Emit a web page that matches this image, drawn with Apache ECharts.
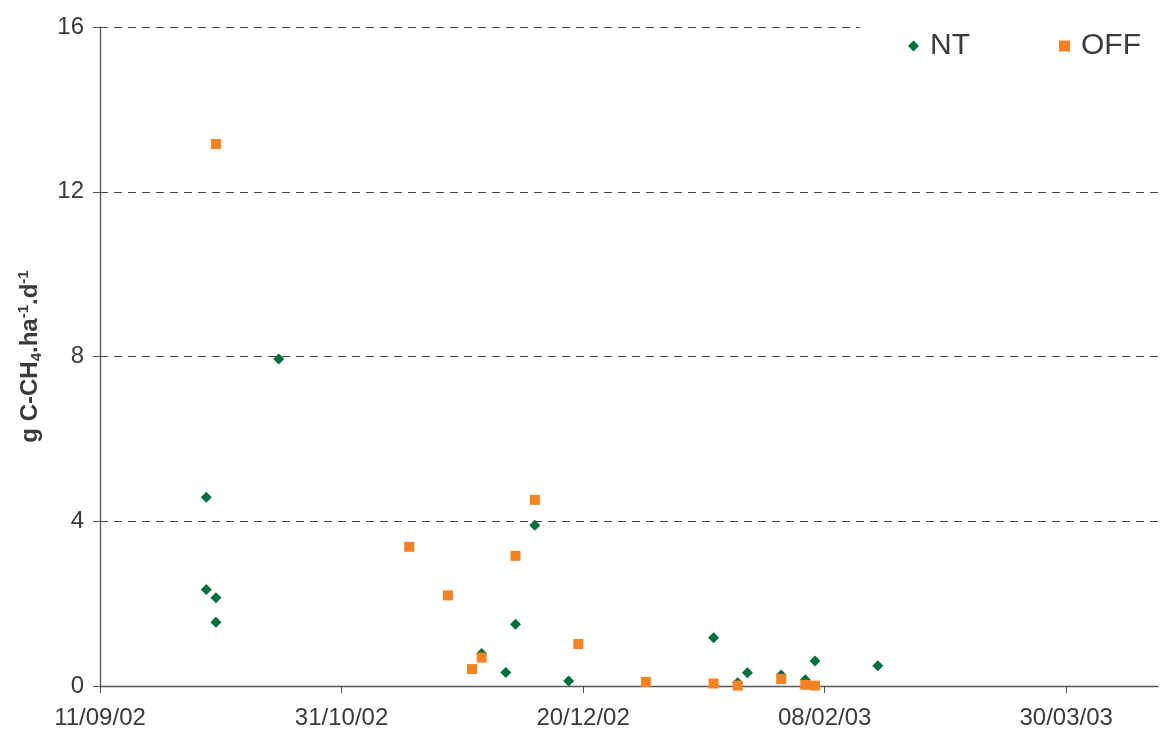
<!DOCTYPE html>
<html>
<head>
<meta charset="utf-8">
<script src="https://cdn.jsdelivr.net/npm/echarts@6/dist/echarts.min.js"></script>
<style>
html,body{margin:0;padding:0;background:#fff;}
#chart{width:1160px;height:731px;}
</style>
</head>
<body>
<div id="chart"></div>
<script>
// Data
var startDate = '2002-09-11';
var xTickDays = [0, 50, 100, 150, 200];
var yTicks = [0, 4, 8, 12, 16];

var ntDates = ['2002-10-03','2002-10-03','2002-10-05','2002-10-05','2002-10-18','2002-11-29','2002-12-04','2002-12-06','2002-12-10','2002-12-17','2003-01-16','2003-01-21','2003-01-23','2003-01-30','2003-02-04','2003-02-06','2003-02-19'];
var ntValues = [4.58, 2.34, 2.14, 1.55, 7.94, 0.79, 0.33, 1.50, 3.90, 0.12, 1.17, 0.08, 0.32, 0.27, 0.15, 0.61, 0.49];

var offDates = ['2002-10-05','2002-11-14','2002-11-22','2002-11-27','2002-11-29','2002-12-06','2002-12-10','2002-12-19','2003-01-02','2003-01-16','2003-01-21','2003-01-30','2003-02-04','2003-02-06'];
var offValues = [13.16, 3.38, 2.20, 0.41, 0.69, 3.16, 4.52, 1.02, 0.10, 0.06, 0.01, 0.17, 0.03, 0.01];

function toUTC(s){ var p = s.split('-'); return Date.UTC(+p[0], +p[1]-1, +p[2]); }
var DAY = 86400000;
var t0 = toUTC(startDate);
function dayOffset(s){ return Math.round((toUTC(s) - t0) / DAY); }
function pad(n){ return (n < 10 ? '0' : '') + n; }
function fmt(days){
  var d = new Date(t0 + days * DAY);
  return pad(d.getUTCDate()) + '/' + pad(d.getUTCMonth()+1) + '/' + pad(d.getUTCFullYear() % 100);
}
function pairs(dates, vals){ return dates.map(function(d,i){ return [dayOffset(d), vals[i]]; }); }

var txt = '#3a3a3a';
var font = 'Liberation Sans, Arial, sans-serif';
var chart = echarts.init(document.getElementById('chart'), null, {renderer:'canvas'});
chart.setOption({
  animation: false,
  backgroundColor: '#fff',
  textStyle: {fontFamily: font},
  grid: {left: 100, right: 2, top: 27, bottom: 45, containLabel: false},
  legend: {
    orient: 'horizontal',
    left: 860, top: 15, width: 400,
    padding: [16, 30, 16, 48],
    backgroundColor: '#fff',
    itemWidth: 11, itemHeight: 11, itemGap: 89,
    textStyle: {fontSize: 30, color: txt, fontFamily: font, padding: [0,0,0,6]},
    data: [{name:'NT', icon:'diamond'}, {name:'OFF', icon:'rect'}]
  },
  xAxis: {
    type: 'value', min: 0, max: 219, interval: 50,
    axisLine: {lineStyle: {color: '#555', width: 1.3}},
    axisTick: {show: true, length: 7, lineStyle: {color: '#555'}, customValues: xTickDays},
    axisLabel: {color: txt, fontSize: 24, margin: 20, fontFamily: font, customValues: xTickDays,
      formatter: function(v){ return fmt(v); }},
    splitLine: {show: false}
  },
  yAxis: {
    type: 'value', min: 0, max: 16, interval: 4,
    name: '{b|g C-CH}{sub|4}{b|.ha}{sup|-1}{b|.d}{sup|-1}',
    nameLocation: 'middle', nameGap: 47, nameRotate: 90,
    nameTextStyle: {
      rich: {
        b: {fontSize: 24, fontWeight: 'bold', color: txt, fontFamily: font, lineHeight: 32, verticalAlign: 'middle'},
        sub: {fontSize: 15, fontWeight: 'bold', color: txt, fontFamily: font, lineHeight: 32, verticalAlign: 'bottom', padding: [0,0,2,0]},
        sup: {fontSize: 15, fontWeight: 'bold', color: txt, fontFamily: font, lineHeight: 32, verticalAlign: 'top', padding: [2,0,0,0]}
      }
    },
    axisLine: {show: true, lineStyle: {color: '#555', width: 1.3}},
    axisTick: {show: true, length: 7, lineStyle: {color: '#555'}},
    axisLabel: {color: txt, fontSize: 24, margin: 16, fontFamily: font,
      customValues: yTicks},
    splitLine: {show: true, lineStyle: {color: '#444', type: [8, 6], width: 1}}
  },
  series: [
    {name: 'NT', type: 'scatter', symbol: 'diamond', symbolSize: 11,
     itemStyle: {color: '#00703C', opacity: 1}, data: pairs(ntDates, ntValues), z: 3},
    {name: 'OFF', type: 'scatter', symbol: 'rect', symbolSize: 10,
     itemStyle: {color: '#F68323', opacity: 1}, data: pairs(offDates, offValues), z: 4}
  ]
});
</script>
</body>
</html>
